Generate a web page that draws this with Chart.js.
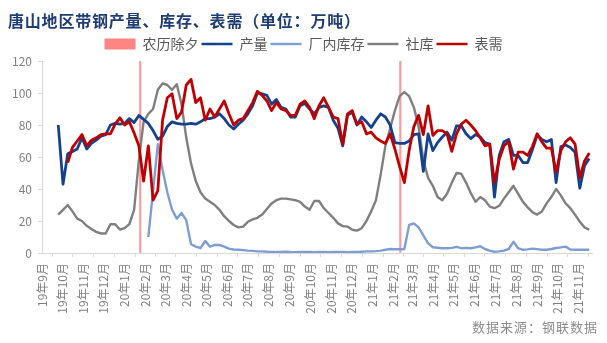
<!DOCTYPE html>
<html>
<head>
<meta charset="utf-8">
<script src="https://cdn.jsdelivr.net/npm/chart.js@4.4.1/dist/chart.umd.min.js"></script>
<style>
  body { margin: 0; background: #fff; }
  .wrap { position: relative; width: 607px; height: 343px; font-family: "Noto Sans CJK SC", sans-serif; }
  .title { position: absolute; left: 8px; top: 8px; font-size: 16px; font-weight: bold; color: #1F3C73; white-space: nowrap; letter-spacing: 0.8px; }
  .source { position: absolute; right: 9px; top: 317px; font-size: 13px; color: #8C8C8C; white-space: nowrap; letter-spacing: 1px; }
</style>
</head>
<body>
<div class="wrap">
  <canvas id="steelChart" width="607" height="343"></canvas>
  <div class="title">唐山地区带钢产量、库存、表需（单位：万吨）</div>
  <div class="source">数据来源：钢联数据</div>
</div>
<script>
// 周度数据, 第一周 2019-09-25
var firstWeek = '2019-09-25';

// 产量
var output = [80, 43, 62, 63.5, 65, 72, 65, 68.5, 70.5, 73, 74, 80, 81, 80.5, 81, 84, 81.5, 86, 83.5, 81,
  76.5, 71, 73, 79, 82, 81, 80.5, 80.5, 81, 80.5, 82, 84, 84, 85, 87, 84, 80, 77.5, 80.5, 83,
  87, 92, 100, 99.5, 98.5, 93, 96, 91, 90, 85, 85, 92, 93.5, 90, 87, 91, 92, 91, 83, 78,
  67, 86, 88, 80, 85, 82, 78.5, 83, 87, 85, 80, 69, 68.5, 68.5, 70, 74, 74.5, 51, 74.5, 64,
  69, 72.5, 75.5, 70.5, 79.5, 79.5, 74.5, 71.5, 74, 72.5, 69, 68, 35, 61, 69.5, 71, 61, 61, 56.5, 56.5,
  64.5, 73.5, 71, 69.5, 71, 44, 66.5, 67.5, 66, 63, 40.5, 54.5, 59];

// 厂内库存
var millStock = [null, null, null, null, null, null, null, null, null, null, null, null, null, null, null, null, null, null, null, 10,
  39, 68, 52, 38, 27, 21.5, 25, 20.5, 5.5, 4, 3, 7.5, 4, 5, 5, 4, 2.7, 2.2, 2, 1.8,
  1.5, 1.3, 1, 1, 0.8, 0.7, 0.6, 0.6, 0.8, 0.6, 0.5, 0.6, 0.7, 0.6, 0.5, 0.6, 0.6, 0.5, 0.6, 0.7,
  0.6, 0.5, 0.6, 0.6, 0.8, 1, 1, 1.2, 1.5, 2, 2.5, 2.3, 2.3, 2.5, 17.5, 18.5, 16, 11, 6, 3.6,
  3.3, 3, 3, 3.2, 3.8, 3, 3.2, 3, 3.5, 4.2, 2.5, 1.5, 0.8, 1, 1.5, 2.5, 7, 3, 2, 2.3,
  2.7, 2.4, 2, 2, 2.5, 3.1, 3.5, 4, 2.2, 2, 2, 2, 2];

// 社库
var socialStock = [24, 27, 30, 26, 21.5, 20, 17, 15, 13.2, 12.2, 12.2, 18, 18, 14.7, 15.5, 18, 27, 58, 82, 87,
  90, 102, 106, 105, 102, 105.5, 93, 72, 56, 45, 38, 34, 32, 30, 27, 23, 20, 17.5, 16, 16.5,
  19.5, 21, 22, 24, 27.5, 31, 33, 34, 34, 33.5, 33, 32, 29, 27, 32.5, 32.5, 28, 25, 22, 18.5,
  16.8, 16.5, 14.5, 14, 15.5, 20, 26, 33, 49, 67, 78, 89, 98, 100.5, 98, 91, 79, 58, 47, 42,
  35, 33, 37, 44, 50, 49.5, 44, 37.5, 32, 35, 33, 29, 28, 29.5, 34, 38, 42, 37, 32, 28.5,
  25.5, 24, 26, 31, 35, 40, 36, 31, 28, 24, 19.5, 16, 14.5];

// 表需
var demand = [null, null, 56.5, 66, 70, 74, 67, 70.5, 72, 74, 74.5, 74.5, 80.5, 84.5, 80, 82, 75, 67, 45, 67,
  33, 39, 83, 97, 99.5, 84, 88, 105, 108.5, 94, 97, 83, 90, 85, 90, 95, 87, 80, 83, 84,
  89, 94, 101, 98.5, 95, 89, 94, 90, 89, 86, 86, 93, 95, 91, 84, 92, 97, 91, 85, 84,
  68, 87, 89, 80.5, 82, 74.5, 75.5, 72, 70, 68.5, 74.5, 65, 54, 44, 64, 79, 86, 74, 92, 73.5,
  76.5, 76.5, 74.5, 63.5, 74.5, 80.5, 83, 80, 76.5, 72, 67, 68, 44, 58.5, 67, 69.5, 52.5, 63, 63, 61,
  66.5, 74.5, 69.5, 65.5, 65.5, 50.5, 64, 69.5, 72, 68, 47, 57.5, 62.5];

// 农历除夕
var newYearEve = ['2020-01-24', '2021-02-11'];

var monthLabels = ['19年9月', '19年10月', '19年11月', '19年12月', '20年1月', '20年2月', '20年3月', '20年4月', '20年5月',
  '20年6月', '20年7月', '20年8月', '20年9月', '20年10月', '20年11月', '20年12月', '21年1月', '21年2月',
  '21年3月', '21年4月', '21年5月', '21年6月', '21年7月', '21年8月', '21年9月', '21年10月', '21年11月'];

var yMax = 120, yStep = 20;

// 以 2019-09-01 为第 0 天
function dayNo(y, m, d) {
  return (Date.UTC(y, m - 1, d) - Date.UTC(2019, 8, 1)) / 86400000;
}
function dayOf(s) {
  var p = s.split('-');
  return dayNo(+p[0], +p[1], +p[2]);
}
var monthTicks = monthLabels.map(function (t) {
  var m = t.match(/(\d+)年(\d+)月/);
  return dayNo(2000 + (+m[1]), +m[2], 1);
});
function weekly(arr) {
  var d0 = dayOf(firstWeek);
  return arr.map(function (v, i) { return { x: d0 + 7 * i, y: v }; });
}

var axisColor = '#D9D9D9';
var tickColor = '#808080';

// 图例按数据集顺序排列, 线条用短线表示
var legendLabels = {
  usePointStyle: true,
  pointStyleWidth: 31,
  boxHeight: 11,
  padding: 3,
  color: '#595959',
  font: { size: 14, family: '"Noto Sans CJK SC", sans-serif' },
  sort: function (a, b) { return a.datasetIndex - b.datasetIndex; },
  generateLabels: function (chart) {
    var items = Chart.defaults.plugins.legend.labels.generateLabels(chart);
    items.forEach(function (it) {
      var ds = chart.data.datasets[it.datasetIndex];
      if (ds.type === 'bar') {
        it.pointStyle = 'rect';
        it.fillStyle = ds.legendColor;
        it.lineWidth = 0;
      } else {
        it.pointStyle = 'line';
        it.strokeStyle = ds.borderColor;
        it.lineWidth = Math.min(ds.borderWidth, 2.5);
      }
    });
    return items;
  }
};

// 图例居中于整个画布
var centerLegend = {
  id: 'centerLegend',
  beforeDraw: function (chart) {
    chart.legend.left = 0;
    chart.legend.right = chart.width;
  }
};

function lineSet(label, data, color, width, order) {
  return {
    type: 'line', label: label, data: weekly(data),
    borderColor: color, backgroundColor: color, borderWidth: width,
    pointRadius: 0, tension: 0, spanGaps: false, order: order,
    borderJoinStyle: 'round'
  };
}

new Chart(document.getElementById('steelChart'), {
  type: 'line',
  data: {
    datasets: [
      {
        type: 'bar', label: '农历除夕',
        data: newYearEve.map(function (d) { return { x: dayOf(d), y: yMax }; }),
        backgroundColor: 'rgba(250,120,120,0.75)', legendColor: '#FF8585',
        barThickness: 1.5, order: 5
      },
      lineSet('产量', output, '#15428F', 2.8, 2),
      lineSet('厂内库存', millStock, '#7E9ED2', 2.4, 4),
      lineSet('社库', socialStock, '#7F7F7F', 2.4, 3),
      lineSet('表需', demand, '#C00000', 2.8, 1)
    ]
  },
  options: {
    responsive: false,
    animation: false,
    events: [],
    layout: { padding: { top: 34, right: 15, left: 0, bottom: 0 } },
    plugins: {
      legend: { position: 'top', align: 'center', labels: legendLabels },
      tooltip: { enabled: false },
      title: { display: false }
    },
    scales: {
      x: {
        type: 'linear', min: 0, max: 812, offset: false,
        afterBuildTicks: function (axis) {
          axis.ticks = monthTicks.map(function (v) { return { value: v }; });
        },
        afterFit: function (s) { s.height = 90; },
        ticks: {
          autoSkip: false, minRotation: 90, maxRotation: 90, padding: 6,
          color: tickColor, font: { size: 12, family: '"Noto Sans CJK SC", sans-serif' },
          callback: function (v, i) { return monthLabels[i]; }
        },
        grid: { display: true, drawOnChartArea: false, tickLength: 4, color: axisColor },
        border: { display: true, color: axisColor }
      },
      y: {
        min: 0, max: yMax,
        afterFit: function (s) { s.width = 42; },
        ticks: {
          stepSize: yStep, padding: 6, color: tickColor,
          font: { size: 12, family: '"Noto Sans CJK SC", sans-serif' }
        },
        grid: { display: true, drawOnChartArea: false, tickLength: 4, color: axisColor },
        border: { display: true, color: axisColor }
      }
    }
  },
  plugins: [centerLegend]
});
</script>
</body>
</html>
